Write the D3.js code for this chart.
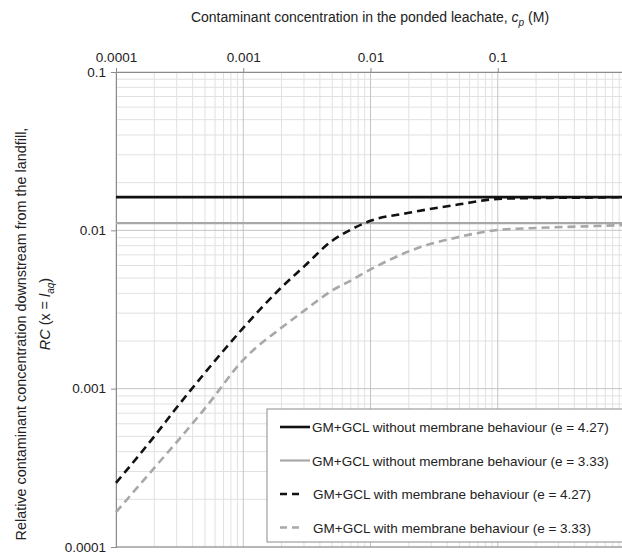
<!DOCTYPE html>
<html>
<head>
<meta charset="utf-8">
<script src="https://d3js.org/d3.v7.min.js"></script>
<style>
body { margin: 0; background: #fff; }
svg { display: block; font-family: "Liberation Sans", Arial, sans-serif; }
.grid-major line { stroke: #c4c4c4; stroke-width: 1; }
.grid-minor line { stroke: #e1e1e1; stroke-width: 1; }
.axis path, .axis line { stroke: #8c8c8c; }
.axis text { font-size: 13.5px; fill: #222; }
</style>
</head>
<body>
<script>
// concentration in ponded leachate, cp (M)
var cp = [0.0001, 0.0002, 0.0003, 0.0005, 0.001, 0.002, 0.003, 0.005, 0.007, 0.01, 0.02, 0.05, 0.1, 0.2, 0.5, 1];
// RC with membrane behaviour
var rcMem427 = [0.000254, 0.000500, 0.000760, 0.00126, 0.00242, 0.00437, 0.00590, 0.00860, 0.0101, 0.01148, 0.0129, 0.0146, 0.0158, 0.0160, 0.0161, 0.0162];
var rcMem333 = [0.000166, 0.000316, 0.000460, 0.000750, 0.00152, 0.00243, 0.00310, 0.00417, 0.00482, 0.00566, 0.00736, 0.0091, 0.01005, 0.01035, 0.0106, 0.0108];
// RC without membrane behaviour (constant)
var cpFlat = [0.0001, 1];
var rcNoMem427 = [0.0162, 0.0162];
var rcNoMem333 = [0.0111, 0.0111];

var xTicks = [0.0001, 0.001, 0.01, 0.1, 1];
var xTickLabels = ["0.0001", "0.001", "0.01", "0.1", "1"];
var yTicks = [0.0001, 0.001, 0.01, 0.1];
var yTickLabels = ["0.0001", "0.001", "0.01", "0.1"];

var legendLabels = [
  "GM+GCL without membrane behaviour (e = 4.27)",
  "GM+GCL without membrane behaviour (e = 3.33)",
  "GM+GCL with membrane behaviour (e = 4.27)",
  "GM+GCL with membrane behaviour (e = 3.33)"
];

var width = 622, height = 559;
var margin = {left: 116, top: 72, right: -3, bottom: 12};

var x = d3.scaleLog().domain([0.0001, 1]).range([margin.left, width - margin.right]);
var y = d3.scaleLog().domain([0.0001, 0.1]).range([height - margin.bottom, margin.top]);

var svg = d3.select("body").append("svg").attr("width", width).attr("height", height);

// minor ticks 2..9 for each decade
var xMinor = [], yMinor = [];
for (var d = -4; d < 0; d++) {
  for (var k = 2; k <= 9; k++) {
    xMinor.push(k * Math.pow(10, d));
    if (d < -1) yMinor.push(k * Math.pow(10, d));
  }
}

var plot = svg.append("g");

plot.append("g").attr("class", "grid-minor")
  .selectAll("line").data(xMinor).enter().append("line")
  .attr("x1", function(d) { return x(d); }).attr("x2", function(d) { return x(d); })
  .attr("y1", y(0.0001)).attr("y2", y(0.1));
plot.append("g").attr("class", "grid-minor")
  .selectAll("line").data(yMinor).enter().append("line")
  .attr("y1", function(d) { return y(d); }).attr("y2", function(d) { return y(d); })
  .attr("x1", x(0.0001)).attr("x2", x(1));
plot.append("g").attr("class", "grid-major")
  .selectAll("line").data(xTicks).enter().append("line")
  .attr("x1", function(d) { return x(d); }).attr("x2", function(d) { return x(d); })
  .attr("y1", y(0.0001)).attr("y2", y(0.1));
plot.append("g").attr("class", "grid-major")
  .selectAll("line").data(yTicks).enter().append("line")
  .attr("y1", function(d) { return y(d); }).attr("y2", function(d) { return y(d); })
  .attr("x1", x(0.0001)).attr("x2", x(1));

// axes
var xAxis = d3.axisTop(x).tickValues(xTicks).tickSize(4).tickPadding(6)
  .tickFormat(function(d, i) { return xTickLabels[i]; });
svg.append("g").attr("class", "axis x")
  .attr("transform", "translate(0," + y(0.1) + ")")
  .call(xAxis);

var yAxis = d3.axisLeft(y).tickValues(yTicks).tickSize(5).tickPadding(5)
  .tickFormat(function(d, i) { return yTickLabels[i]; });
svg.append("g").attr("class", "axis y")
  .attr("transform", "translate(" + x(0.0001) + ",0)")
  .call(yAxis);

svg.append("line")
  .attr("x1", x(0.0001)).attr("x2", x(1))
  .attr("y1", y(0.0001)).attr("y2", y(0.0001))
  .style("stroke", "#8c8c8c");

// series
var line = d3.line()
  .x(function(d) { return x(d[0]); })
  .y(function(d) { return y(d[1]); })
  .curve(d3.curveMonotoneX);

function pairs(xs, ys) { return xs.map(function(v, i) { return [v, ys[i]]; }); }

var series = [
  {data: pairs(cpFlat, rcNoMem427), color: "#111", width: 2.6, dash: null},
  {data: pairs(cpFlat, rcNoMem333), color: "#a8a8a8", width: 2.2, dash: null},
  {data: pairs(cp, rcMem427), color: "#111", width: 2.6, dash: "8,5"},
  {data: pairs(cp, rcMem333), color: "#a8a8a8", width: 2.6, dash: "8,5"}
];

series.forEach(function(s) {
  svg.append("path")
    .datum(s.data)
    .attr("d", line)
    .style("fill", "none")
    .style("stroke", s.color)
    .style("stroke-width", s.width)
    .style("stroke-dasharray", s.dash);
});

// legend
var legend = svg.append("g").attr("transform", "translate(267,409)");
legend.append("rect")
  .attr("width", 360).attr("height", 133)
  .style("fill", "#fff").style("stroke", "#8c8c8c");

series.forEach(function(s, i) {
  var ly = 18 + i * 33.5;
  legend.append("line")
    .attr("x1", 13).attr("x2", s.dash ? 35 : 43)
    .attr("y1", ly).attr("y2", ly)
    .style("stroke", s.color)
    .style("stroke-width", s.width)
    .style("stroke-dasharray", s.dash ? "7,5" : null);
  legend.append("text")
    .attr("x", s.dash ? 46 : 45).attr("y", ly + 5)
    .style("font-size", "13.5px").style("fill", "#222")
    .text(legendLabels[i]);
});

// x title
var title = svg.append("text")
  .attr("x", 370).attr("y", 22)
  .style("text-anchor", "middle")
  .style("font-size", "14px").style("fill", "#222");
title.append("tspan").text("Contaminant concentration in the ponded leachate, ");
title.append("tspan").style("font-style", "italic").text("c");
title.append("tspan").style("font-style", "italic").style("font-size", "10px").attr("dy", 4).text("p");
title.append("tspan").attr("dy", -4).text(" (M)");

// y title, two lines
var ytitle = svg.append("text")
  .attr("transform", "translate(26,334) rotate(-90)")
  .style("text-anchor", "middle")
  .style("font-size", "14.4px").style("fill", "#222")
  .text("Relative contaminant concentration downstream from the landfill,");
var t2 = svg.append("text")
  .attr("transform", "translate(50,314) rotate(-90)")
  .style("text-anchor", "middle")
  .style("font-size", "14.4px").style("fill", "#222");
t2.append("tspan").style("font-style", "italic").text("RC");
t2.append("tspan").text(" (x = ");
t2.append("tspan").style("font-style", "italic").text("l");
t2.append("tspan").style("font-style", "italic").style("font-size", "10px").attr("dy", 4).text("aq");
t2.append("tspan").attr("dy", -4).text(")");
</script>
</body>
</html>
